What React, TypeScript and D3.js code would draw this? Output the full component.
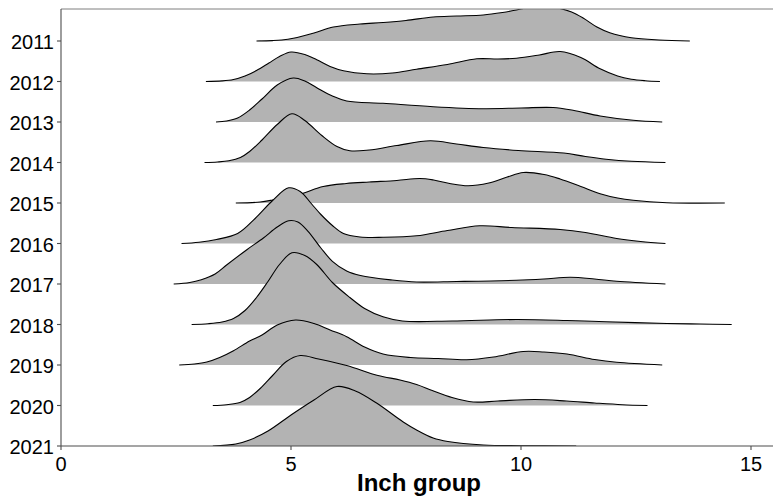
import React from "react";
import * as d3 from "d3";

const years = ["2011", "2012", "2013", "2014", "2015", "2016", "2017", "2018", "2019", "2020", "2021"];
const xTicks = [0, 5, 10, 15];
const xTitle = "Inch group";

// [inch group, density]
const r2011: [number, number][] = [
  [4.25, 0], [4.6, 0.004], [4.8, 0.01], [5.05, 0.027], [5.5, 0.08], [5.92, 0.14], [6.5, 0.17], [7.0, 0.185],
  [7.5, 0.205], [8.09, 0.24], [8.6, 0.25], [9.18, 0.26], [9.6, 0.285], [9.9, 0.31], [10.2, 0.34],
  [10.5, 0.35], [10.8, 0.33], [11.1, 0.29], [11.35, 0.23], [11.65, 0.14], [11.93, 0.083],
  [12.4, 0.033], [13.0, 0.01], [13.67, 0],
];
const r2012: [number, number][] = [
  [3.15, 0], [3.5, 0.006], [3.75, 0.02], [4.0, 0.055], [4.25, 0.11], [4.52, 0.185], [4.75, 0.25], [5.0, 0.295],
  [5.3, 0.27], [5.56, 0.217], [5.85, 0.15], [6.14, 0.107], [6.65, 0.077], [7.2, 0.085],
  [7.73, 0.123], [8.4, 0.17], [9.04, 0.227], [9.5, 0.225], [9.9, 0.233], [10.4, 0.265],
  [10.85, 0.3], [11.3, 0.24], [11.72, 0.127], [12.1, 0.055], [12.4, 0.023], [12.7, 0.008], [13.02, 0],
];
const r2013: [number, number][] = [
  [3.37, 0], [3.6, 0.01], [3.84, 0.04], [4.1, 0.12], [4.37, 0.23], [4.7, 0.37], [5.05, 0.44], [5.3, 0.41],
  [5.56, 0.343], [5.9, 0.26], [6.21, 0.21], [7.0, 0.187], [8.09, 0.153], [9.18, 0.133],
  [10.0, 0.14], [10.7, 0.145], [11.13, 0.117], [11.72, 0.06], [12.44, 0.017], [13.07, 0],
];
const r2014: [number, number][] = [
  [3.12, 0], [3.4, 0.005], [3.65, 0.017], [3.9, 0.05], [4.1, 0.11], [4.37, 0.225], [4.7, 0.38], [5.02, 0.487], [5.3, 0.42],
  [5.67, 0.27], [6.0, 0.16], [6.28, 0.117], [6.7, 0.125], [7.3, 0.17], [8.03, 0.217],
  [8.6, 0.185], [9.18, 0.15], [9.94, 0.12], [10.93, 0.095], [11.4, 0.06], [11.85, 0.033],
  [12.4, 0.012], [13.14, 0],
];
const r2015: [number, number][] = [
  [3.8, 0], [4.33, 0.01], [4.6, 0.03], [5.2, 0.09], [5.7, 0.165], [6.2, 0.195], [6.7, 0.21],
  [7.3, 0.225], [7.8, 0.245], [8.1, 0.23], [8.45, 0.195], [8.85, 0.172], [9.3, 0.2], [9.7, 0.26],
  [10.05, 0.305], [10.5, 0.285], [10.85, 0.24], [11.3, 0.165], [11.72, 0.093], [12.1, 0.05],
  [12.44, 0.027], [13.17, 0.003], [14.43, 0],
];
const r2016: [number, number][] = [
  [2.62, 0], [3.0, 0.012], [3.38, 0.04], [3.84, 0.1], [4.22, 0.25], [4.6, 0.43], [4.95, 0.557], [5.2, 0.52],
  [5.44, 0.4], [5.65, 0.29], [5.9, 0.18], [6.14, 0.1], [6.5, 0.065], [7.0, 0.062], [7.73, 0.077],
  [8.4, 0.13], [9.1, 0.177], [9.8, 0.16], [10.85, 0.14], [11.4, 0.11], [12.08, 0.05],
  [12.6, 0.02], [13.14, 0],
];
const r2017: [number, number][] = [
  [2.45, 0], [2.8, 0.015], [3.05, 0.043], [3.35, 0.1], [3.6, 0.19], [4.04, 0.343], [4.4, 0.46], [4.7, 0.57], [4.95, 0.633],
  [5.15, 0.62], [5.37, 0.527], [5.65, 0.36], [5.9, 0.227], [6.21, 0.13], [6.51, 0.085],
  [7.2, 0.04], [7.73, 0.02], [8.6, 0.025], [9.9, 0.037], [10.5, 0.05], [11.07, 0.067],
  [11.6, 0.05], [12.08, 0.027], [13.14, 0],
];
const r2018: [number, number][] = [
  [2.84, 0], [3.2, 0.008], [3.5, 0.025], [3.75, 0.06], [4.0, 0.14], [4.25, 0.27], [4.5, 0.43], [4.75, 0.6],
  [5.02, 0.717], [5.3, 0.69], [5.56, 0.6], [5.9, 0.42], [6.28, 0.27], [6.6, 0.16], [7.0, 0.077],
  [7.42, 0.035], [8.5, 0.035], [9.9, 0.05], [11.0, 0.04], [11.85, 0.027], [13.17, 0.01],
  [13.9, 0.005], [14.58, 0],
];
const r2019: [number, number][] = [
  [2.57, 0], [2.9, 0.01], [3.17, 0.03], [3.45, 0.075], [3.75, 0.143], [4.1, 0.24], [4.37, 0.3], [4.7, 0.4], [5.1, 0.45],
  [5.5, 0.415], [5.85, 0.35], [6.21, 0.283], [6.6, 0.18], [7.0, 0.11], [7.6, 0.075],
  [8.2, 0.065], [8.82, 0.053], [9.4, 0.08], [10.05, 0.135], [10.5, 0.13], [11.0, 0.11],
  [11.6, 0.055], [12.08, 0.027], [13.07, 0],
];
const r2020: [number, number][] = [
  [3.3, 0], [3.6, 0.008], [3.89, 0.03], [4.1, 0.08], [4.33, 0.17], [4.6, 0.3], [4.9, 0.44], [5.2, 0.5],
  [5.6, 0.465], [6.21, 0.4], [6.89, 0.3], [7.37, 0.255], [7.73, 0.21], [8.07, 0.15],
  [8.5, 0.08], [8.96, 0.035], [9.5, 0.045], [10.3, 0.06], [10.99, 0.045], [11.6, 0.025],
  [12.2, 0.008], [12.75, 0],
];
const r2021: [number, number][] = [
  [3.3, 0], [3.8, 0.02], [4.1, 0.06], [4.5, 0.15], [5.0, 0.31], [5.5, 0.46], [6.0, 0.595],
  [6.4, 0.55], [6.86, 0.43], [7.44, 0.24], [7.73, 0.16], [8.09, 0.08], [8.41, 0.045],
  [9.18, 0.01], [10.0, 0.003], [11.2, 0],
];
const ridges = [r2011, r2012, r2013, r2014, r2015, r2016, r2017, r2018, r2019, r2020, r2021];

const W = 773;
const H = 498;
const margin = { top: 9, right: 0, bottom: 52, left: 61 };

export default function App() {
  const x = d3.scaleLinear().domain([0, 15]).range([margin.left, 751]);
  const y = d3.scalePoint().domain(years).range([41, H - margin.bottom]);
  const hgt = d3.scaleLinear().domain([0, 1]).range([0, 100]);
  const bottom = H - margin.bottom;
  const axisCol = "#4d4d4d";
  const curve = d3.curveCatmullRom.alpha(0.5);

  return (
    <svg width={W} height={H} style={{ position: "absolute", left: 0, top: 0, display: "block" }}
      fontFamily="Liberation Sans, Arial, sans-serif">
      <defs>
        <clipPath id="panel">
          <rect x={margin.left} y={margin.top} width={W - margin.left} height={bottom - margin.top} />
        </clipPath>
      </defs>
      <g clipPath="url(#panel)">
        {ridges.map((r, i) => {
          const base = y(years[i]) as number;
          const area = d3.area<[number, number]>()
            .x(d => x(d[0]))
            .y0(base)
            .y1(d => Math.min(base, base - hgt(d[1])))
            .curve(curve);
          const line = d3.line<[number, number]>()
            .x(d => x(d[0]))
            .y(d => base - hgt(d[1]))
            .curve(curve);
          return (
            <g key={years[i]}>
              <path d={area(r) || ""} fill="#b3b3b3" />
              <path d={line(r) || ""} fill="none" stroke="#000" strokeWidth={1.1} />
            </g>
          );
        })}
      </g>

      {/* frame */}
      <line x1={margin.left} x2={W} y1={margin.top} y2={margin.top} stroke="#7f7f7f" strokeWidth={1} />
      <line x1={margin.left} x2={margin.left} y1={margin.top} y2={bottom} stroke={axisCol} strokeWidth={1.1} />
      <line x1={margin.left} x2={W} y1={bottom} y2={bottom} stroke={axisCol} strokeWidth={1.1} />

      {/* y axis */}
      {years.map(yr => (
        <g key={yr}>
          <line x1={margin.left - 4} x2={margin.left} y1={y(yr)} y2={y(yr)} stroke={axisCol} strokeWidth={1.1} />
          <text x={margin.left - 7} y={(y(yr) as number) + 8} textAnchor="end" fontSize={20} fill="#000">{yr}</text>
        </g>
      ))}

      {/* x axis */}
      {xTicks.map(t => (
        <g key={t}>
          <line x1={x(t)} x2={x(t)} y1={bottom} y2={bottom + 4} stroke={axisCol} strokeWidth={1.1} />
          <text x={x(t)} y={471} textAnchor="middle" fontSize={20} fill="#000">{t}</text>
        </g>
      ))}
      <text x={419} y={491} textAnchor="middle" fontSize={24} fontWeight="bold" fill="#000">{xTitle}</text>
    </svg>
  );
}
